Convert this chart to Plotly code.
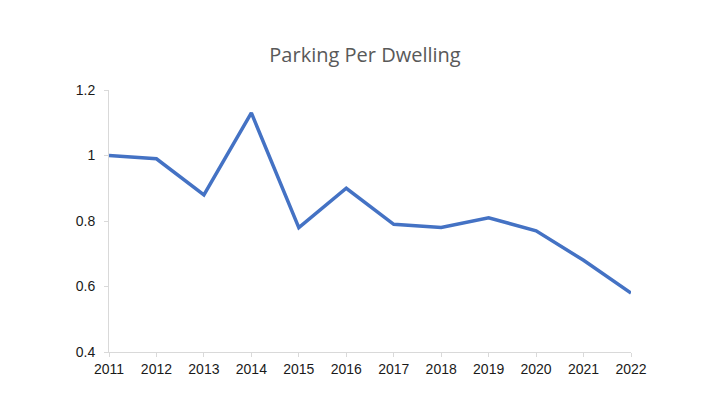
import plotly.graph_objects as go

years = ["2011", "2012", "2013", "2014", "2015", "2016", "2017", "2018", "2019", "2020", "2021", "2022"]
values = [1.00, 0.99, 0.88, 1.13, 0.78, 0.90, 0.79, 0.78, 0.81, 0.77, 0.68, 0.58]
y_ticks = [0.4, 0.6, 0.8, 1.0, 1.2]
y_tick_labels = ["0.4", "0.6", "0.8", "1", "1.2"]

fig = go.Figure()
fig.add_trace(go.Scatter(
    x=years, y=values, mode="lines",
    line=dict(color="#4472C4", width=3.5),
    hoverinfo="x+y",
))

fig.update_layout(
    width=707, height=414,
    paper_bgcolor="white", plot_bgcolor="white",
    margin=dict(l=101, r=84, t=82, b=70),
    showlegend=False,
    title=dict(
        text="Parking Per Dwelling",
        x=357 / 707, xanchor="center",
        y=1 - 47 / 414, yanchor="middle",
        font=dict(family="Open Sans", size=20, color="#595959"),
    ),
    xaxis=dict(
        type="category",
        range=[0, 11],
        showgrid=False, zeroline=False,
        showline=True, linecolor="#D9D9D9", linewidth=1,
        ticks="outside", ticklen=4, tickcolor="#D9D9D9",
        tickfont=dict(family="Liberation Sans, Arial", size=14, color="#1a1a1a"),
    ),
    yaxis=dict(
        range=[0.4, 1.2],
        tickvals=y_ticks, ticktext=y_tick_labels,
        showgrid=False, zeroline=False,
        showline=True, linecolor="#D9D9D9", linewidth=1,
        ticks="outside", ticklen=4, tickcolor="#D9D9D9",
        ticklabelstandoff=6,
        tickfont=dict(family="Liberation Sans, Arial", size=14, color="#1a1a1a"),
    ),
)

fig.write_html("out.html")
